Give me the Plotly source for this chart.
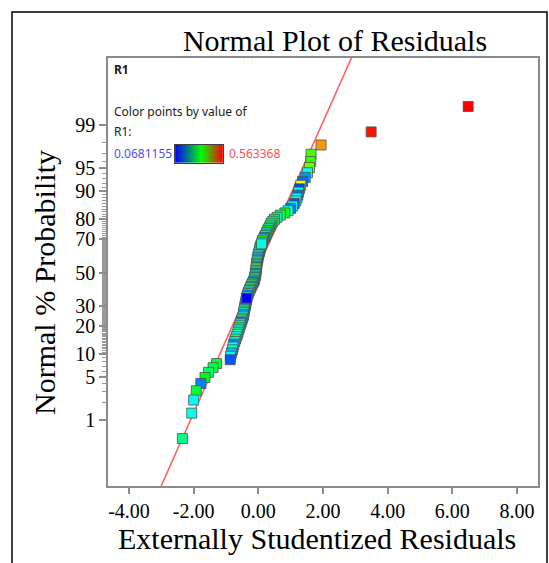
import numpy as np
import plotly.graph_objects as go
from statistics import NormalDist

# ---- data (sorted externally studentized residuals) ----
residuals = [
    -2.35, -2.06, -2.00, -1.92, -1.78, -1.65, -1.54, -1.40, -1.29, -0.87,
    -0.86, -0.83, -0.80, -0.78, -0.76, -0.73, -0.71, -0.68, -0.65, -0.63,
    -0.61, -0.59, -0.57, -0.55, -0.53, -0.51, -0.49, -0.47, -0.46, -0.45,
    -0.44, -0.43, -0.42, -0.41, -0.40, -0.39, -0.38, -0.37, -0.36, -0.35,
    -0.33, -0.32, -0.30, -0.28, -0.26, -0.24, -0.22, -0.20, -0.18, -0.15,
    -0.13, -0.12, -0.11, -0.10, -0.09, -0.08, -0.08, -0.07, -0.07, -0.06,
    -0.06, -0.05, -0.05, -0.04, -0.03, -0.02, -0.01, -0.01, 0.00, 0.02,
    0.03, 0.04, 0.05, 0.06, 0.08, 0.10, 0.12, 0.13, 0.16, 0.19,
    0.21, 0.24, 0.26, 0.29, 0.32, 0.35, 0.38, 0.40, 0.45, 0.50,
    0.58, 0.68, 0.82, 0.92, 1.00, 1.06, 1.11, 1.16, 1.19, 1.22,
    1.24, 1.27, 1.31, 1.37, 1.45, 1.52, 1.58, 1.62, 1.63, 1.94,
    3.49, 6.49,
]
r1_values = [
    0.25, 0.20, 0.19, 0.29, 0.13, 0.31, 0.27, 0.28, 0.29, 0.11,
    0.19, 0.16, 0.21, 0.19, 0.13, 0.22, 0.26, 0.19, 0.21, 0.27,
    0.20, 0.29, 0.19, 0.24, 0.13, 0.20, 0.28, 0.19, 0.15, 0.21,
    0.25, 0.19, 0.12, 0.22, 0.19, 0.27, 0.16, 0.20, 0.0681155, 0.21,
    0.14, 0.19, 0.26, 0.20, 0.30, 0.19, 0.15, 0.26, 0.21, 0.12,
    0.20, 0.25, 0.19, 0.16, 0.21, 0.12, 0.36, 0.20, 0.37, 0.19,
    0.14, 0.22, 0.21, 0.35, 0.20, 0.15, 0.19, 0.24, 0.21, 0.19,
    0.26, 0.20, 0.33, 0.19, 0.16, 0.21, 0.20, 0.34, 0.19, 0.13,
    0.22, 0.27, 0.20, 0.31, 0.24, 0.30, 0.21, 0.26, 0.25, 0.28,
    0.24, 0.26, 0.32, 0.20, 0.13, 0.21, 0.11, 0.20, 0.19, 0.12,
    0.21, 0.10, 0.43, 0.12, 0.14, 0.20, 0.37, 0.34, 0.35, 0.49,
    0.555, 0.563368,
]
r1_min = 0.0681155
r1_max = 0.563368

prob_ticks = [1, 5, 10, 20, 30, 50, 70, 80, 90, 95, 99]
prob_labels = ["1", "5", "10", "20", "30", "50", "70", "80", "90", "95", "99"]
x_ticks = [-4, -2, 0, 2, 4, 6, 8]
x_labels = ["-4.00", "-2.00", "0.00", "2.00", "4.00", "6.00", "8.00"]

# reference normal line parameters
line_mean = -0.07
line_sd = 0.873

nd = NormalDist()
N = len(residuals)
z_pts = [nd.inv_cdf((i + 0.5) / N) for i in range(N)]
zt = [nd.inv_cdf(p / 100.0) for p in prob_ticks]

# draw points in a scattered (run-like) order instead of sorted order
order = [(k * 37) % N for k in range(N)]
xs = [residuals[k] for k in order]
ys = [z_pts[k] for k in order]
cs = [r1_values[k] for k in order]

minor_p = [p for p in range(2, 99) if p not in prob_ticks]
minor_p += [p + 0.5 for p in range(10, 70)]
minor_z = [nd.inv_cdf(p / 100.0) for p in minor_p]

y_range = [-3.362, 3.378]
x_range = [-4.65, 8.65]

serif = "Liberation Serif, Times New Roman, serif"
sans = "Noto Sans, Open Sans, sans-serif"
axis_gray = "#8c8c8c"

fig = go.Figure()

# fitted normal line
zl = np.array([y_range[0] - 0.2, y_range[1] + 0.2])
fig.add_trace(go.Scatter(
    x=line_mean + line_sd * zl, y=zl, mode="lines",
    line=dict(color="#ff6262", width=1.6), hoverinfo="skip", showlegend=False,
))

point_scale = [[0, "#0000ff"], [0.25, "#00ffff"], [0.5, "#00ff00"],
               [0.75, "#ffff00"], [1, "#ff0000"]]
fig.add_trace(go.Scatter(
    x=xs, y=ys, mode="markers",
    marker=dict(symbol="square", size=10, color=cs, colorscale=point_scale,
                cmin=r1_min, cmax=r1_max, showscale=False,
                line=dict(color="#505050", width=0.8)),
    showlegend=False,
))

# gradient legend bar
fig.add_trace(go.Heatmap(
    z=[list(np.linspace(r1_min, r1_max, 60))], x=list(range(60)), y=[0],
    colorscale=[[0, "#0000ff"], [0.55, "#00ff00"], [1, "#ff0000"]],
    showscale=False, xaxis="x2", yaxis="y2", hoverinfo="skip",
))

fig.update_layout(
    width=549, height=563,
    margin=dict(l=108, r=11, t=58, b=77),
    paper_bgcolor="white", plot_bgcolor="white",
    title=dict(text="Normal Plot of Residuals", font=dict(family=serif, size=30, color="black"),
               x=0.528, xref="paper", xanchor="center", y=1 - 40 / 563, yref="container",
               yanchor="middle"),
    xaxis=dict(range=x_range, tickvals=x_ticks, ticktext=x_labels, ticks="outside",
               ticklen=6, tickcolor=axis_gray, tickwidth=1.5, showline=True, linecolor=axis_gray,
               linewidth=1.5, mirror=True, showgrid=False, zeroline=False, automargin=False,
               tickfont=dict(family=serif, size=20, color="black")),
    yaxis=dict(range=y_range, tickvals=zt, ticktext=prob_labels, ticks="outside",
               ticklen=7, tickcolor=axis_gray, tickwidth=1.5, showline=True, linecolor=axis_gray,
               linewidth=1.5, mirror=True, showgrid=False, zeroline=False, automargin=False,
               tickfont=dict(family=serif, size=20, color="black"),
               minor=dict(tickmode="array", tickvals=minor_z, ticks="outside", ticklen=4,
                          tickcolor="#9a9a9a", tickwidth=1)),
    xaxis2=dict(domain=[0.156, 0.267], anchor="y2", showticklabels=False, ticks="",
                showgrid=False, zeroline=False, showline=True, linecolor="#404040",
                linewidth=1, mirror=True, range=[-0.5, 59.5], automargin=False),
    yaxis2=dict(domain=[0.755, 0.797], anchor="x2", showticklabels=False, ticks="",
                showgrid=False, zeroline=False, showline=True, linecolor="#404040",
                linewidth=1, mirror=True, range=[-0.5, 0.5], automargin=False),
)

# axis titles
fig.add_annotation(text="Externally Studentized Residuals", x=(317 - 108) / 430,
                   y=(486 - 538) / 428, xref="paper", yref="paper", showarrow=False,
                   xanchor="center", yanchor="middle",
                   font=dict(family=serif, size=30, color="black"))
fig.add_annotation(text="Normal % Probability", x=(44 - 108) / 430,
                   y=(486 - 283) / 428, xref="paper", yref="paper", showarrow=False,
                   xanchor="center", yanchor="middle", textangle=-90,
                   font=dict(family=serif, size=30, color="black"))

def note(text, x, y, color="#202020", size=12):
    fig.add_annotation(text=text, x=x, y=y, xref="paper", yref="paper", xanchor="left",
                       yanchor="middle", showarrow=False,
                       font=dict(family=sans, size=size, color=color))

note("<b>R1</b>", 0.0093, 0.972)
note("Color points by value of", 0.0093, 0.874)
note("R1:", 0.0093, 0.829)
note("0.0681155", 0.0093, 0.776, color="#4d4dff")
note("0.563368", 0.277, 0.776, color="#ff4d4d")

# outer frame
fig.add_shape(type="rect", xref="paper", yref="paper",
              x0=(12 - 108) / 430, x1=(547 - 108) / 430,
              y0=(486 - 575) / 428, y1=(486 - 12) / 428,
              line=dict(color="black", width=1.5))

fig.write_html("out.html", config={"displayModeBar": False},
               post_script="document.body.style.margin='0px';")
